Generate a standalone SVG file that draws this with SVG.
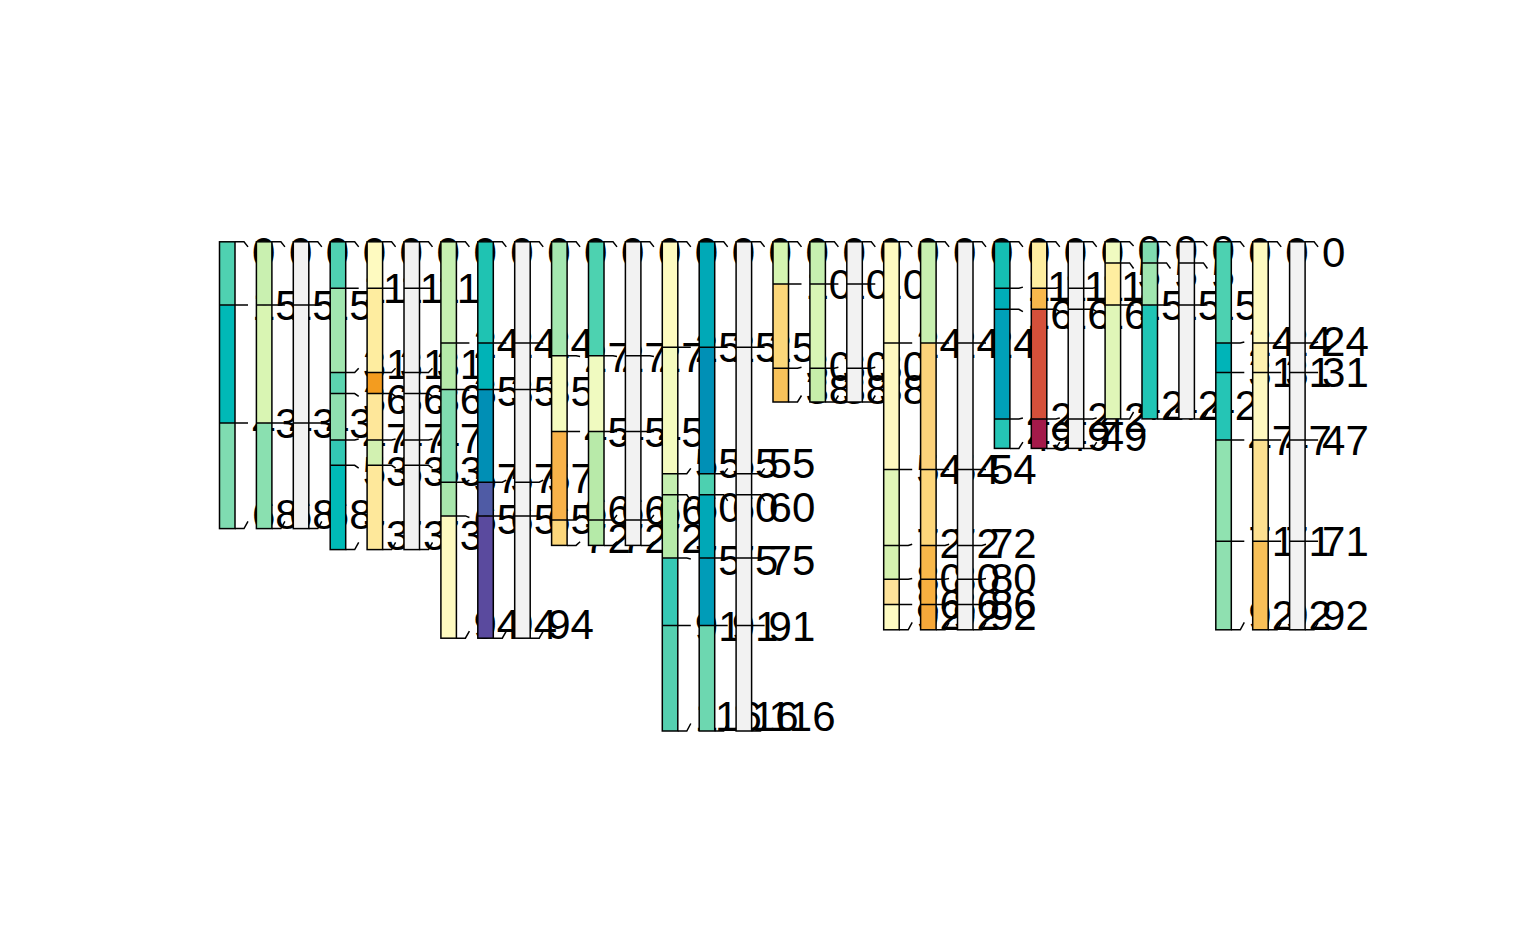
<svg xmlns="http://www.w3.org/2000/svg" width="1536" height="950" viewBox="0 0 1536 950">
<style>
.o{fill:none;stroke:#000;stroke-width:1.5}
.l{fill:none;stroke:#000;stroke-width:1.5}
.g{fill:#f2f2f2}
text{font-family:"Liberation Sans",Arial,sans-serif;font-size:42px;fill:#000}
</style>
<rect width="1536" height="950" fill="#fff"/>
<g id="profiles">
<!-- T1 -->
<g id="p01" transform="translate(219.5,0)">
<rect y="241.8" width="15.5" height="63.3" fill="#4fd1b1"/><rect y="305.1" width="15.5" height="118" fill="#00b9b7"/><rect y="423.1" width="15.5" height="105.5" fill="#7fdcb1"/>
<path class="l" d="M0,305.1H15.5M0,423.1H15.5"/><rect class="o" y="241.8" width="15.5" height="286.8"/>
<path class="l" d="M15.5,241.8H24.5L28.5,246.9M15.5,305.1H28.5M15.5,423.1H28.5M15.5,528.6H24.5L28.5,521.3"/>
<text x="32.5" y="267">0</text><text x="32.5" y="320">15</text><text x="32.5" y="438">43</text><text x="32.5" y="529">68</text>
</g>
<g id="p02" transform="translate(256.4,0)">
<rect y="241.8" width="15.5" height="63.3" fill="#c9f0b0"/><rect y="305.1" width="15.5" height="118" fill="#d9f5b3"/><rect y="423.1" width="15.5" height="105.5" fill="#8ae0b0"/>
<path class="l" d="M0,305.1H15.5M0,423.1H15.5"/><rect class="o" y="241.8" width="15.5" height="286.8"/>
<path class="l" d="M15.5,241.8H24.5L28.5,246.9M15.5,305.1H28.5M15.5,423.1H28.5M15.5,528.6H24.5L28.5,521.3"/>
<text x="32.5" y="267">0</text><text x="32.5" y="320">15</text><text x="32.5" y="438">43</text><text x="32.5" y="529">68</text>
</g>
<g id="p03" transform="translate(293.3,0)">
<rect class="g" y="241.8" width="15.5" height="286.8"/>
<path class="l" d="M0,305.1H15.5M0,423.1H15.5"/><rect class="o" y="241.8" width="15.5" height="286.8"/>
<path class="l" d="M15.5,241.8H24.5L28.5,246.9M15.5,305.1H28.5M15.5,423.1H28.5M15.5,528.6H24.5L28.5,521.3"/>
<text x="32.5" y="267">0</text><text x="32.5" y="320">15</text><text x="32.5" y="438">43</text><text x="32.5" y="529">68</text>
</g>
<!-- T2 -->
<g id="p04" transform="translate(330.2,0)">
<rect y="241.8" width="15.5" height="46.4" fill="#4fd1b1"/><rect y="288.2" width="15.5" height="84.3" fill="#a2e6b0"/><rect y="372.5" width="15.5" height="21.1" fill="#5cd4b0"/><rect y="393.6" width="15.5" height="46.4" fill="#8fe0b0"/><rect y="440" width="15.5" height="25.3" fill="#33c8b4"/><rect y="465.3" width="15.5" height="84.3" fill="#00bab7"/>
<path class="l" d="M0,288.2H15.5M0,372.5H15.5M0,393.6H15.5M0,440H15.5M0,465.3H15.5"/><rect class="o" y="241.8" width="15.5" height="307.8"/>
<path class="l" d="M15.5,241.8H24.5L28.5,246.9M15.5,288.2H28.5M15.5,372.5H24.5L28.5,368.2M15.5,393.6H24.5L28.5,396.3M15.5,440H24.5L28.5,439M15.5,465.3H24.5L28.5,468.2M15.5,549.6H24.5L28.5,542.3"/>
<text x="32.5" y="267">0</text><text x="32.5" y="303">11</text><text x="32.5" y="379">31</text><text x="32.5" y="414">36</text><text x="32.5" y="453">47</text><text x="32.5" y="486">53</text><text x="32.5" y="550">73</text>
</g>
<g id="p05" transform="translate(367.1,0)">
<rect y="241.8" width="15.5" height="46.4" fill="#fefac0"/><rect y="288.2" width="15.5" height="84.3" fill="#feeda0"/><rect y="372.5" width="15.5" height="21.1" fill="#f39c1f"/><rect y="393.6" width="15.5" height="46.4" fill="#fee79a"/><rect y="440" width="15.5" height="25.3" fill="#d2f1b1"/><rect y="465.3" width="15.5" height="84.3" fill="#fee89b"/>
<path class="l" d="M0,288.2H15.5M0,372.5H15.5M0,393.6H15.5M0,440H15.5M0,465.3H15.5"/><rect class="o" y="241.8" width="15.5" height="307.8"/>
<path class="l" d="M15.5,241.8H24.5L28.5,246.9M15.5,288.2H28.5M15.5,372.5H24.5L28.5,368.2M15.5,393.6H24.5L28.5,396.3M15.5,440H24.5L28.5,439M15.5,465.3H24.5L28.5,468.2M15.5,549.6H24.5L28.5,542.3"/>
<text x="32.5" y="267">0</text><text x="32.5" y="303">11</text><text x="32.5" y="379">31</text><text x="32.5" y="414">36</text><text x="32.5" y="453">47</text><text x="32.5" y="486">53</text><text x="32.5" y="550">73</text>
</g>
<g id="p06" transform="translate(404,0)">
<rect class="g" y="241.8" width="15.5" height="307.8"/>
<path class="l" d="M0,288.2H15.5M0,372.5H15.5M0,393.6H15.5M0,440H15.5M0,465.3H15.5"/><rect class="o" y="241.8" width="15.5" height="307.8"/>
<path class="l" d="M15.5,241.8H24.5L28.5,246.9M15.5,288.2H28.5M15.5,372.5H24.5L28.5,368.2M15.5,393.6H24.5L28.5,396.3M15.5,440H24.5L28.5,439M15.5,465.3H24.5L28.5,468.2M15.5,549.6H24.5L28.5,542.3"/>
<text x="32.5" y="267">0</text><text x="32.5" y="303">11</text><text x="32.5" y="379">31</text><text x="32.5" y="414">36</text><text x="32.5" y="453">47</text><text x="32.5" y="486">53</text><text x="32.5" y="550">73</text>
</g>
<!-- T3 -->
<g id="p07" transform="translate(440.9,0)">
<rect y="241.8" width="15.5" height="101.2" fill="#c6f0b1"/><rect y="343" width="15.5" height="46.4" fill="#b5eaa9"/><rect y="389.4" width="15.5" height="92.8" fill="#80dcb0"/><rect y="482.2" width="15.5" height="33.7" fill="#a8e6ac"/><rect y="515.9" width="15.5" height="122.3" fill="#fefac0"/>
<path class="l" d="M0,343H15.5M0,389.4H15.5M0,482.2H15.5M0,515.9H15.5"/><rect class="o" y="241.8" width="15.5" height="396.4"/>
<path class="l" d="M15.5,241.8H24.5L28.5,246.9M15.5,343H28.5M15.5,389.4H24.5L28.5,390.2M15.5,482.2H24.5L28.5,480.1M15.5,515.9H24.5L28.5,517.5M15.5,638.2H24.5L28.5,631.1"/>
<text x="32.5" y="267">0</text><text x="32.5" y="358">24</text><text x="32.5" y="406">35</text><text x="32.5" y="493">57</text><text x="32.5" y="534">65</text><text x="32.5" y="639">94</text>
</g>
<g id="p08" transform="translate(477.8,0)">
<rect y="241.8" width="15.5" height="101.2" fill="#1fc3b2"/><rect y="343" width="15.5" height="46.4" fill="#00b3b7"/><rect y="389.4" width="15.5" height="92.8" fill="#008fb5"/><rect y="482.2" width="15.5" height="33.7" fill="#4f5ba5"/><rect y="515.9" width="15.5" height="122.3" fill="#5a4a9e"/>
<path class="l" d="M0,343H15.5M0,389.4H15.5M0,482.2H15.5M0,515.9H15.5"/><rect class="o" y="241.8" width="15.5" height="396.4"/>
<path class="l" d="M15.5,241.8H24.5L28.5,246.9M15.5,343H28.5M15.5,389.4H24.5L28.5,390.2M15.5,482.2H24.5L28.5,480.1M15.5,515.9H24.5L28.5,517.5M15.5,638.2H24.5L28.5,631.1"/>
<text x="32.5" y="267">0</text><text x="32.5" y="358">24</text><text x="32.5" y="406">35</text><text x="32.5" y="493">57</text><text x="32.5" y="534">65</text><text x="32.5" y="639">94</text>
</g>
<g id="p09" transform="translate(514.7,0)">
<rect class="g" y="241.8" width="15.5" height="396.4"/>
<path class="l" d="M0,343H15.5M0,389.4H15.5M0,482.2H15.5M0,515.9H15.5"/><rect class="o" y="241.8" width="15.5" height="396.4"/>
<path class="l" d="M15.5,241.8H24.5L28.5,246.9M15.5,343H28.5M15.5,389.4H24.5L28.5,390.2M15.5,482.2H24.5L28.5,480.1M15.5,515.9H24.5L28.5,517.5M15.5,638.2H24.5L28.5,631.1"/>
<text x="32.5" y="267">0</text><text x="32.5" y="358">24</text><text x="32.5" y="406">35</text><text x="32.5" y="493">57</text><text x="32.5" y="534">65</text><text x="32.5" y="639">94</text>
</g>
<!-- T4 -->
<g id="p10" transform="translate(551.6,0)">
<rect y="241.8" width="15.5" height="113.9" fill="#a4e7b0"/><rect y="355.7" width="15.5" height="75.9" fill="#f5fbbf"/><rect y="431.6" width="15.5" height="88.5" fill="#f8b24a"/><rect y="520.1" width="15.5" height="25.3" fill="#fcd77b"/>
<path class="l" d="M0,355.7H15.5M0,431.6H15.5M0,520.1H15.5"/><rect class="o" y="241.8" width="15.5" height="303.6"/>
<path class="l" d="M15.5,241.8H24.5L28.5,246.9M15.5,355.7H24.5L28.5,356.4M15.5,431.6H28.5M15.5,520.1H24.5L28.5,515M15.5,545.4H24.5L28.5,541.7"/>
<text x="32.5" y="267">0</text><text x="32.5" y="372">27</text><text x="32.5" y="447">45</text><text x="32.5" y="525">66</text><text x="32.5" y="553">72</text>
</g>
<g id="p11" transform="translate(588.5,0)">
<rect y="241.8" width="15.5" height="113.9" fill="#4dd2b0"/><rect y="355.7" width="15.5" height="75.9" fill="#f0fac0"/><rect y="431.6" width="15.5" height="88.5" fill="#b8eaa9"/><rect y="520.1" width="15.5" height="25.3" fill="#b5eaa8"/>
<path class="l" d="M0,355.7H15.5M0,431.6H15.5M0,520.1H15.5"/><rect class="o" y="241.8" width="15.5" height="303.6"/>
<path class="l" d="M15.5,241.8H24.5L28.5,246.9M15.5,355.7H24.5L28.5,356.4M15.5,431.6H28.5M15.5,520.1H24.5L28.5,515M15.5,545.4H24.5L28.5,541.7"/>
<text x="32.5" y="267">0</text><text x="32.5" y="372">27</text><text x="32.5" y="447">45</text><text x="32.5" y="525">66</text><text x="32.5" y="553">72</text>
</g>
<g id="p12" transform="translate(625.4,0)">
<rect class="g" y="241.8" width="15.5" height="303.6"/>
<path class="l" d="M0,355.7H15.5M0,431.6H15.5M0,520.1H15.5"/><rect class="o" y="241.8" width="15.5" height="303.6"/>
<path class="l" d="M15.5,241.8H24.5L28.5,246.9M15.5,355.7H24.5L28.5,356.4M15.5,431.6H28.5M15.5,520.1H24.5L28.5,515M15.5,545.4H24.5L28.5,541.7"/>
<text x="32.5" y="267">0</text><text x="32.5" y="372">27</text><text x="32.5" y="447">45</text><text x="32.5" y="525">66</text><text x="32.5" y="553">72</text>
</g>
<!-- T5 -->
<g id="p13" transform="translate(662.3,0)">
<rect y="241.8" width="15.5" height="105.4" fill="#fefbc0"/><rect y="347.2" width="15.5" height="126.5" fill="#f5fbbf"/><rect y="473.7" width="15.5" height="21.1" fill="#c5efb0"/><rect y="494.8" width="15.5" height="63.3" fill="#b6eaa9"/><rect y="558.1" width="15.5" height="67.4" fill="#36c9b5"/><rect y="625.5" width="15.5" height="105.5" fill="#55d0b0"/>
<path class="l" d="M0,347.2H15.5M0,473.7H15.5M0,494.8H15.5M0,558.1H15.5M0,625.5H15.5"/><rect class="o" y="241.8" width="15.5" height="489.2"/>
<path class="l" d="M15.5,241.8H24.5L28.5,246.9M15.5,347.2H28.5M15.5,473.7H24.5L28.5,468.4M15.5,494.8H24.5L28.5,500.9M15.5,558.1H24.5L28.5,559M15.5,625.5H28.5M15.5,731H24.5L28.5,723.5"/>
<text x="32.5" y="267">0</text><text x="32.5" y="362">25</text><text x="32.5" y="478">55</text><text x="32.5" y="522">60</text><text x="32.5" y="575">75</text><text x="32.5" y="641">91</text><text x="32.5" y="731">116</text>
</g>
<g id="p14" transform="translate(699.2,0)">
<rect y="241.8" width="15.5" height="105.4" fill="#00a9b7"/><rect y="347.2" width="15.5" height="126.5" fill="#0090b6"/><rect y="473.7" width="15.5" height="21.1" fill="#4dd0b0"/><rect y="494.8" width="15.5" height="63.3" fill="#00a8b7"/><rect y="558.1" width="15.5" height="67.4" fill="#009cb8"/><rect y="625.5" width="15.5" height="105.5" fill="#6dd7b0"/>
<path class="l" d="M0,347.2H15.5M0,473.7H15.5M0,494.8H15.5M0,558.1H15.5M0,625.5H15.5"/><rect class="o" y="241.8" width="15.5" height="489.2"/>
<path class="l" d="M15.5,241.8H24.5L28.5,246.9M15.5,347.2H28.5M15.5,473.7H24.5L28.5,468.4M15.5,494.8H24.5L28.5,500.9M15.5,558.1H24.5L28.5,559M15.5,625.5H28.5M15.5,731H24.5L28.5,723.5"/>
<text x="32.5" y="267">0</text><text x="32.5" y="362">25</text><text x="32.5" y="478">55</text><text x="32.5" y="522">60</text><text x="32.5" y="575">75</text><text x="32.5" y="641">91</text><text x="32.5" y="731">116</text>
</g>
<g id="p15" transform="translate(736.1,0)">
<rect class="g" y="241.8" width="15.5" height="489.2"/>
<path class="l" d="M0,347.2H15.5M0,473.7H15.5M0,494.8H15.5M0,558.1H15.5M0,625.5H15.5"/><rect class="o" y="241.8" width="15.5" height="489.2"/>
<path class="l" d="M15.5,241.8H24.5L28.5,246.9M15.5,347.2H28.5M15.5,473.7H24.5L28.5,468.4M15.5,494.8H24.5L28.5,500.9M15.5,558.1H24.5L28.5,559M15.5,625.5H28.5M15.5,731H24.5L28.5,723.5"/>
<text x="32.5" y="267">0</text><text x="32.5" y="362">25</text><text x="32.5" y="478">55</text><text x="32.5" y="522">60</text><text x="32.5" y="575">75</text><text x="32.5" y="641">91</text><text x="32.5" y="731">116</text>
</g>
<!-- T6 -->
<g id="p16" transform="translate(773,0)">
<rect y="241.8" width="15.5" height="42.2" fill="#d5f5b1"/><rect y="284" width="15.5" height="84.3" fill="#fcd77a"/><rect y="368.3" width="15.5" height="33.7" fill="#f8c25a"/>
<path class="l" d="M0,284H15.5M0,368.3H15.5"/><rect class="o" y="241.8" width="15.5" height="160.2"/>
<path class="l" d="M15.5,241.8H24.5L28.5,246.9M15.5,284H28.5M15.5,368.3H24.5L28.5,367.2M15.5,402H24.5L28.5,395.5"/>
<text x="32.5" y="267">0</text><text x="32.5" y="299">10</text><text x="32.5" y="381">30</text><text x="32.5" y="404">38</text>
</g>
<g id="p17" transform="translate(809.9,0)">
<rect y="241.8" width="15.5" height="42.2" fill="#c6efb0"/><rect y="284" width="15.5" height="84.3" fill="#d8f5b5"/><rect y="368.3" width="15.5" height="33.7" fill="#c6eda9"/>
<path class="l" d="M0,284H15.5M0,368.3H15.5"/><rect class="o" y="241.8" width="15.5" height="160.2"/>
<path class="l" d="M15.5,241.8H24.5L28.5,246.9M15.5,284H28.5M15.5,368.3H24.5L28.5,367.2M15.5,402H24.5L28.5,395.5"/>
<text x="32.5" y="267">0</text><text x="32.5" y="299">10</text><text x="32.5" y="381">30</text><text x="32.5" y="404">38</text>
</g>
<g id="p18" transform="translate(846.8,0)">
<rect class="g" y="241.8" width="15.5" height="160.2"/>
<path class="l" d="M0,284H15.5M0,368.3H15.5"/><rect class="o" y="241.8" width="15.5" height="160.2"/>
<path class="l" d="M15.5,241.8H24.5L28.5,246.9M15.5,284H28.5M15.5,368.3H24.5L28.5,367.2M15.5,402H24.5L28.5,395.5"/>
<text x="32.5" y="267">0</text><text x="32.5" y="299">10</text><text x="32.5" y="381">30</text><text x="32.5" y="404">38</text>
</g>
<!-- T7 -->
<g id="p19" transform="translate(883.7,0)">
<rect y="241.8" width="15.5" height="101.2" fill="#fefac0"/><rect y="343" width="15.5" height="126.5" fill="#fef8c0"/><rect y="469.5" width="15.5" height="75.9" fill="#e2f6b8"/><rect y="545.4" width="15.5" height="33.8" fill="#d5f2b0"/><rect y="579.2" width="15.5" height="25.3" fill="#fee39a"/><rect y="604.5" width="15.5" height="25.3" fill="#fefbc2"/>
<path class="l" d="M0,343H15.5M0,469.5H15.5M0,545.4H15.5M0,579.2H15.5M0,604.5H15.5"/><rect class="o" y="241.8" width="15.5" height="388"/>
<path class="l" d="M15.5,241.8H24.5L28.5,246.9M15.5,343H28.5M15.5,469.5H28.5M15.5,545.4H24.5L28.5,544.2M15.5,579.2H24.5L28.5,578.6M15.5,604.5H28.5M15.5,629.8H24.5L28.5,622.4"/>
<text x="32.5" y="267">0</text><text x="32.5" y="358">24</text><text x="32.5" y="484">54</text><text x="32.5" y="558">72</text><text x="32.5" y="593">80</text><text x="32.5" y="619">86</text><text x="32.5" y="630">92</text>
</g>
<g id="p20" transform="translate(920.6,0)">
<rect y="241.8" width="15.5" height="101.2" fill="#c8f0b0"/><rect y="343" width="15.5" height="126.5" fill="#fcd27a"/><rect y="469.5" width="15.5" height="75.9" fill="#fdd67a"/><rect y="545.4" width="15.5" height="33.8" fill="#f8b84a"/><rect y="579.2" width="15.5" height="25.3" fill="#f8b040"/><rect y="604.5" width="15.5" height="25.3" fill="#f5a83a"/>
<path class="l" d="M0,343H15.5M0,469.5H15.5M0,545.4H15.5M0,579.2H15.5M0,604.5H15.5"/><rect class="o" y="241.8" width="15.5" height="388"/>
<path class="l" d="M15.5,241.8H24.5L28.5,246.9M15.5,343H28.5M15.5,469.5H28.5M15.5,545.4H24.5L28.5,544.2M15.5,579.2H24.5L28.5,578.6M15.5,604.5H28.5M15.5,629.8H24.5L28.5,622.4"/>
<text x="32.5" y="267">0</text><text x="32.5" y="358">24</text><text x="32.5" y="484">54</text><text x="32.5" y="558">72</text><text x="32.5" y="593">80</text><text x="32.5" y="619">86</text><text x="32.5" y="630">92</text>
</g>
<g id="p21" transform="translate(957.5,0)">
<rect class="g" y="241.8" width="15.5" height="388"/>
<path class="l" d="M0,343H15.5M0,469.5H15.5M0,545.4H15.5M0,579.2H15.5M0,604.5H15.5"/><rect class="o" y="241.8" width="15.5" height="388"/>
<path class="l" d="M15.5,241.8H24.5L28.5,246.9M15.5,343H28.5M15.5,469.5H28.5M15.5,545.4H24.5L28.5,544.2M15.5,579.2H24.5L28.5,578.6M15.5,604.5H28.5M15.5,629.8H24.5L28.5,622.4"/>
<text x="32.5" y="267">0</text><text x="32.5" y="358">24</text><text x="32.5" y="484">54</text><text x="32.5" y="558">72</text><text x="32.5" y="593">80</text><text x="32.5" y="619">86</text><text x="32.5" y="630">92</text>
</g>
<!-- T8 -->
<g id="p22" transform="translate(994.4,0)">
<rect y="241.8" width="15.5" height="46.4" fill="#15bfb3"/><rect y="288.2" width="15.5" height="21.1" fill="#00aeb8"/><rect y="309.3" width="15.5" height="109.6" fill="#00a0b8"/><rect y="418.9" width="15.5" height="29.5" fill="#25c5b5"/>
<path class="l" d="M0,288.2H15.5M0,309.3H15.5M0,418.9H15.5"/><rect class="o" y="241.8" width="15.5" height="206.6"/>
<path class="l" d="M15.5,241.8H24.5L28.5,246.9M15.5,288.2H24.5L28.5,287.1M15.5,309.3H24.5L28.5,311.7M15.5,418.9H24.5L28.5,418M15.5,448.4H24.5L28.5,442.2"/>
<text x="32.5" y="267">0</text><text x="32.5" y="301">11</text><text x="32.5" y="329">16</text><text x="32.5" y="432">42</text><text x="32.5" y="451">49</text>
</g>
<g id="p23" transform="translate(1031.3,0)">
<rect y="241.8" width="15.5" height="46.4" fill="#feeea0"/><rect y="288.2" width="15.5" height="21.1" fill="#f8b84c"/><rect y="309.3" width="15.5" height="109.6" fill="#d5503a"/><rect y="418.9" width="15.5" height="29.5" fill="#a31a4a"/>
<path class="l" d="M0,288.2H15.5M0,309.3H15.5M0,418.9H15.5"/><rect class="o" y="241.8" width="15.5" height="206.6"/>
<path class="l" d="M15.5,241.8H24.5L28.5,246.9M15.5,288.2H24.5L28.5,287.1M15.5,309.3H24.5L28.5,311.7M15.5,418.9H24.5L28.5,418M15.5,448.4H24.5L28.5,442.2"/>
<text x="32.5" y="267">0</text><text x="32.5" y="301">11</text><text x="32.5" y="329">16</text><text x="32.5" y="432">42</text><text x="32.5" y="451">49</text>
</g>
<g id="p24" transform="translate(1068.2,0)">
<rect class="g" y="241.8" width="15.5" height="206.6"/>
<path class="l" d="M0,288.2H15.5M0,309.3H15.5M0,418.9H15.5"/><rect class="o" y="241.8" width="15.5" height="206.6"/>
<path class="l" d="M15.5,241.8H24.5L28.5,246.9M15.5,288.2H24.5L28.5,287.1M15.5,309.3H24.5L28.5,311.7M15.5,418.9H24.5L28.5,418M15.5,448.4H24.5L28.5,442.2"/>
<text x="32.5" y="267">0</text><text x="32.5" y="301">11</text><text x="32.5" y="329">16</text><text x="32.5" y="432">42</text><text x="32.5" y="451">49</text>
</g>
<!-- T9 -->
<g id="p25" transform="translate(1105.1,0)">
<rect y="241.8" width="15.5" height="21.1" fill="#f0fbc0"/><rect y="262.9" width="15.5" height="42.2" fill="#feeea0"/><rect y="305.1" width="15.5" height="113.8" fill="#e0f6b8"/>
<path class="l" d="M0,262.9H15.5M0,305.1H15.5"/><rect class="o" y="241.8" width="15.5" height="177.1"/>
<path class="l" d="M15.5,241.8H24.5L28.5,245.9M15.5,262.9H24.5L28.5,268.5M15.5,305.1H28.5M15.5,418.9H24.5L28.5,412"/>
<text x="32.5" y="265">0</text><text x="32.5" y="289">5</text><text x="32.5" y="320">15</text><text x="32.5" y="420">42</text>
</g>
<g id="p26" transform="translate(1142,0)">
<rect y="241.8" width="15.5" height="21.1" fill="#80dcb0"/><rect y="262.9" width="15.5" height="42.2" fill="#a0e6b0"/><rect y="305.1" width="15.5" height="113.8" fill="#20c5b5"/>
<path class="l" d="M0,262.9H15.5M0,305.1H15.5"/><rect class="o" y="241.8" width="15.5" height="177.1"/>
<path class="l" d="M15.5,241.8H24.5L28.5,245.9M15.5,262.9H24.5L28.5,268.5M15.5,305.1H28.5M15.5,418.9H24.5L28.5,412"/>
<text x="32.5" y="265">0</text><text x="32.5" y="289">5</text><text x="32.5" y="320">15</text><text x="32.5" y="420">42</text>
</g>
<g id="p27" transform="translate(1178.9,0)">
<rect class="g" y="241.8" width="15.5" height="177.1"/>
<path class="l" d="M0,262.9H15.5M0,305.1H15.5"/><rect class="o" y="241.8" width="15.5" height="177.1"/>
<path class="l" d="M15.5,241.8H24.5L28.5,245.9M15.5,262.9H24.5L28.5,268.5M15.5,305.1H28.5M15.5,418.9H24.5L28.5,412"/>
<text x="32.5" y="265">0</text><text x="32.5" y="289">5</text><text x="32.5" y="320">15</text><text x="32.5" y="420">42</text>
</g>
<!-- T10 -->
<g id="p28" transform="translate(1215.8,0)">
<rect y="241.8" width="15.5" height="101.2" fill="#4dd1b1"/><rect y="343" width="15.5" height="29.5" fill="#00b4b8"/><rect y="372.5" width="15.5" height="67.5" fill="#25c5b5"/><rect y="440" width="15.5" height="101.2" fill="#90e2b0"/><rect y="541.2" width="15.5" height="88.6" fill="#8fe0b0"/>
<path class="l" d="M0,343H15.5M0,372.5H15.5M0,440H15.5M0,541.2H15.5"/><rect class="o" y="241.8" width="15.5" height="388"/>
<path class="l" d="M15.5,241.8H24.5L28.5,246.9M15.5,343H24.5L28.5,342M15.5,372.5H28.5M15.5,440H28.5M15.5,541.2H28.5M15.5,629.8H24.5L28.5,622.4"/>
<text x="32.5" y="267">0</text><text x="32.5" y="356">24</text><text x="32.5" y="387">31</text><text x="32.5" y="455">47</text><text x="32.5" y="556">71</text><text x="32.5" y="630">92</text>
</g>
<g id="p29" transform="translate(1252.7,0)">
<rect y="241.8" width="15.5" height="101.2" fill="#fefac0"/><rect y="343" width="15.5" height="29.5" fill="#fef2b0"/><rect y="372.5" width="15.5" height="67.5" fill="#fef8c0"/><rect y="440" width="15.5" height="101.2" fill="#fde090"/><rect y="541.2" width="15.5" height="88.6" fill="#f8c058"/>
<path class="l" d="M0,343H15.5M0,372.5H15.5M0,440H15.5M0,541.2H15.5"/><rect class="o" y="241.8" width="15.5" height="388"/>
<path class="l" d="M15.5,241.8H24.5L28.5,246.9M15.5,343H24.5L28.5,342M15.5,372.5H28.5M15.5,440H28.5M15.5,541.2H28.5M15.5,629.8H24.5L28.5,622.4"/>
<text x="32.5" y="267">0</text><text x="32.5" y="356">24</text><text x="32.5" y="387">31</text><text x="32.5" y="455">47</text><text x="32.5" y="556">71</text><text x="32.5" y="630">92</text>
</g>
<g id="p30" transform="translate(1289.6,0)">
<rect class="g" y="241.8" width="15.5" height="388"/>
<path class="l" d="M0,343H15.5M0,372.5H15.5M0,440H15.5M0,541.2H15.5"/><rect class="o" y="241.8" width="15.5" height="388"/>
<path class="l" d="M15.5,241.8H24.5L28.5,246.9M15.5,343H24.5L28.5,342M15.5,372.5H28.5M15.5,440H28.5M15.5,541.2H28.5M15.5,629.8H24.5L28.5,622.4"/>
<text x="32.5" y="267">0</text><text x="32.5" y="356">24</text><text x="32.5" y="387">31</text><text x="32.5" y="455">47</text><text x="32.5" y="556">71</text><text x="32.5" y="630">92</text>
</g>
</g>
<g id="connectors"/>
</svg>
